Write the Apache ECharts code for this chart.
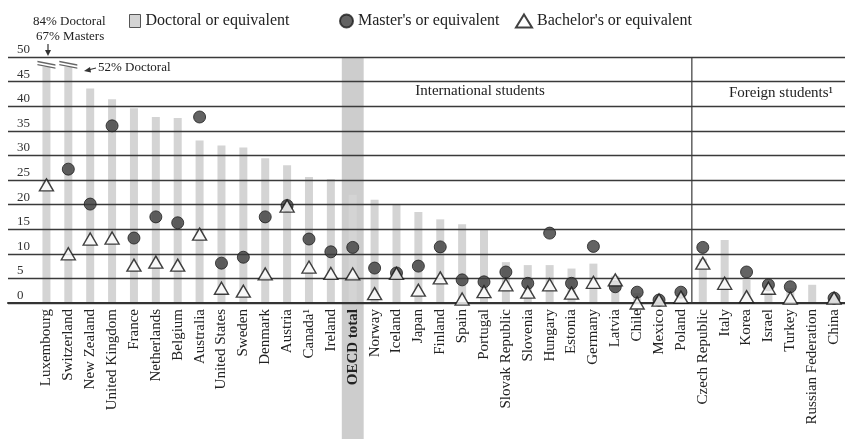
<!DOCTYPE html>
<html>
<head>
<meta charset="utf-8">
<script src="https://cdn.jsdelivr.net/npm/echarts@6/dist/echarts.min.js"></script>
<style>
  html, body { margin: 0; padding: 0; background: #fff; }
  #chart { width: 845px; height: 439px; }
</style>
</head>
<body>
<div id="chart"></div>
<script>
  // categories, left to right
  var countries = ['Luxembourg', 'Switzerland', 'New Zealand', 'United Kingdom', 'France', 'Netherlands',
    'Belgium', 'Australia', 'United States', 'Sweden', 'Denmark', 'Austria', 'Canada¹', 'Ireland',
    'OECD total', 'Norway', 'Iceland', 'Japan', 'Finland', 'Spain', 'Portugal', 'Slovak Republic',
    'Slovenia', 'Hungary', 'Estonia', 'Germany', 'Latvia', 'Chile', 'Mexico', 'Poland',
    'Czech Republic', 'Italy', 'Korea', 'Israel', 'Turkey', 'Russian Federation', 'China'];

  var doctoral = [84, 52, 43.6, 41.4, 39.6, 37.8, 37.6, 33, 32, 31.6, 29.4, 28, 25.6, 25.2,
    22, 21, 20, 18.5, 17, 16, 14.8, 8.3, 7.7, 7.7, 7, 8, 5.5, 2, 1, 2,
    9, 12.8, 4.7, 3, 3, 3.7, 1];

  var masters = [67, 27.2, 20.1, 36, 13.2, 17.5, 16.3, 37.8, 8.1, 9.3, 17.5, 19.8, 13, 10.4,
    11.3, 7.1, 6.1, 7.5, 11.4, 4.7, 4.3, 6.3, 4, 14.2, 4, 11.5, 3.3, 2.2, 0.6, 2.2,
    11.3, null, 6.3, 3.7, 3.3, null, 1];

  var bachelors = [24, 10, 13, 13.2, 7.7, 8.3, 7.7, 14, 3, 2.4, 5.9, 19.7, 7.3, 6,
    5.9, 1.9, 6, 2.6, 5.1, 0.8, 2.3, 3.7, 2.2, 3.7, 2, 4.2, 4.7, 0, 0.6, 1.2,
    8.1, 4, 1.3, 3, 1, null, 1];

  var yTicks = [0, 5, 10, 15, 20, 25, 30, 35, 40, 45, 50];

  var serif = '"Liberation Serif", "DejaVu Serif", serif';

  var chart = echarts.init(document.getElementById('chart'));

  var catData = countries.map(function (c) {
    if (c === 'OECD total') return {value: c, textStyle: {fontWeight: 'bold'}};
    return c;
  });

  var option = {
    animation: false,
    textStyle: {fontFamily: serif},
    legend: [
      {left: 124, top: 8, itemWidth: 11, itemHeight: 13, itemGap: 6,
        textStyle: {fontFamily: serif, fontSize: 16, color: '#222'},
        data: [{name: 'Doctoral or equivalent', icon: 'rect', itemStyle: {borderColor: '#555', borderWidth: 1}}]},
      {left: 334, top: 8, itemWidth: 13, itemHeight: 13,
        textStyle: {fontFamily: serif, fontSize: 16, color: '#222'},
        data: [{name: "Master's or equivalent", icon: 'circle'}]},
      {left: 510, top: 8, itemWidth: 16, itemHeight: 13,
        textStyle: {fontFamily: serif, fontSize: 16, color: '#222'},
        data: [{name: "Bachelor's or equivalent", icon: 'triangle'}]}
    ],
    grid: [
      // full-width grid carrying the horizontal rules and tick labels
      {left: 8, right: 0, top: 57, bottom: 136},
      // plotting grid, bars clipped at the break
      {left: 35.5, width: 813, top: 66.8, bottom: 136}
    ],
    xAxis: [
      {gridIndex: 0, type: 'value', min: 0, max: 1, z: 3, axisLabel: {show: false}, axisTick: {show: false},
        splitLine: {show: false}, axisLine: {show: true, lineStyle: {color: '#333', width: 2}}},
      {gridIndex: 1, type: 'category', data: catData, boundaryGap: true, z: 3,
        axisLine: {show: false}, axisTick: {show: false},
        axisLabel: {interval: 0, rotate: 90, margin: 6, fontFamily: serif, fontSize: 15, color: '#222'}}
    ],
    yAxis: [
      {gridIndex: 0, type: 'value', min: 0, max: 50, interval: 5, z: 3,
        axisLine: {show: false}, axisTick: {show: false},
        axisLabel: {inside: true, margin: 9, verticalAlign: 'bottom', padding: [0, 0, 1, 0],
          fontFamily: serif, fontSize: 13, color: '#333',
          formatter: function (v) { return yTicks.indexOf(v) >= 0 ? String(v) : ''; }},
        splitLine: {lineStyle: {color: '#3a3a3a', width: 1.4}}},
      {gridIndex: 1, type: 'value', min: 0, max: 48, show: false, splitLine: {show: false}}
    ],
    series: [
      {
        name: 'Doctoral or equivalent', type: 'bar', xAxisIndex: 1, yAxisIndex: 1, z: 2,
        barWidth: 8, data: doctoral, itemStyle: {color: '#d4d4d4'},
        markPoint: {
          symbol: 'path://M0,0 L18,4 L18,5.6 L0,1.6 Z M0,3.6 L18,7.6 L18,9.2 L0,5.2 Z',
          symbolSize: [18, 8], symbolOffset: [0, -2], silent: true,
          itemStyle: {color: '#666'}, label: {show: false},
          data: [{coord: ['Luxembourg', 48]}, {coord: ['Switzerland', 48]}]
        }
      },
      {
        name: "Master's or equivalent", type: 'scatter', xAxisIndex: 1, yAxisIndex: 1, z: 5,
        symbol: 'circle', symbolSize: 12, data: masters,
        itemStyle: {color: '#3c3c3c', borderColor: '#1e1e1e', borderWidth: 1}
      },
      {
        name: "Bachelor's or equivalent", type: 'scatter', xAxisIndex: 1, yAxisIndex: 1, z: 6,
        symbol: 'triangle', symbolSize: [14, 12], data: bachelors,
        itemStyle: {color: '#fff', borderColor: '#111', borderWidth: 1.4}
      }
    ]
  };

  chart.setOption(option);

  // OECD highlight band and separator between international / foreign students
  var xo = chart.convertToPixel({xAxisIndex: 1}, 'OECD total');
  var step = chart.convertToPixel({xAxisIndex: 1}, 'Norway') - xo;
  var xSep = (chart.convertToPixel({xAxisIndex: 1}, 'Poland') + chart.convertToPixel({xAxisIndex: 1}, 'Czech Republic')) / 2;
  var yTop = chart.convertToPixel({yAxisIndex: 0}, 50);
  var yZero = chart.convertToPixel({yAxisIndex: 0}, 0);

  chart.setOption({
    graphic: [
      {type: 'rect', z: 1, silent: true,
        shape: {x: xo - step / 2, y: yTop, width: step, height: 439 - yTop},
        style: {fill: '#cdcdcd'}},
      {type: 'line', z: 10, silent: true,
        shape: {x1: xSep, y1: yTop, x2: xSep, y2: yZero},
        style: {stroke: '#3a3a3a', lineWidth: 1.2}},
      {type: 'text', x: 480, y: 91, z: 10, silent: true,
        style: {text: 'International students', font: '15px ' + serif, fill: '#222',
          textAlign: 'center', textVerticalAlign: 'middle'}},
      {type: 'text', x: 781, y: 93, z: 10, silent: true,
        style: {text: 'Foreign students¹', font: '15px ' + serif, fill: '#222',
          textAlign: 'center', textVerticalAlign: 'middle'}},
      // annotations for clipped values
      {type: 'text', x: 33, y: 22, z: 10, silent: true,
        style: {text: '84% Doctoral', font: '13px ' + serif, fill: '#222', textVerticalAlign: 'middle'}},
      {type: 'text', x: 36, y: 37, z: 10, silent: true,
        style: {text: '67% Masters', font: '13px ' + serif, fill: '#222', textVerticalAlign: 'middle'}},
      {type: 'polyline', z: 10, silent: true, shape: {points: [[48, 44], [48, 54]]},
        style: {stroke: '#333', lineWidth: 1.2}},
      {type: 'polygon', z: 10, silent: true, shape: {points: [[45, 50], [51, 50], [48, 56]]},
        style: {fill: '#333'}},
      {type: 'text', x: 98, y: 68, z: 10, silent: true,
        style: {text: '52% Doctoral', font: '13px ' + serif, fill: '#222', textVerticalAlign: 'middle'}},
      {type: 'polyline', z: 10, silent: true, shape: {points: [[96, 68], [88, 70]]},
        style: {stroke: '#333', lineWidth: 1.2}},
      {type: 'polygon', z: 10, silent: true, shape: {points: [[90, 67], [91, 72.5], [84, 71]]},
        style: {fill: '#333'}}
    ]
  });
</script>
</body>
</html>
